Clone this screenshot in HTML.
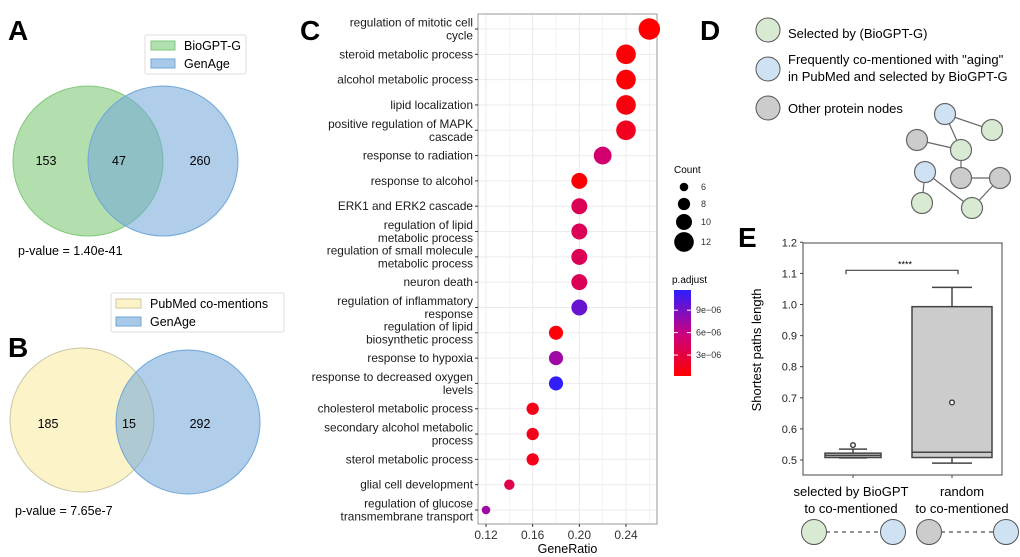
<!DOCTYPE html>
<html><head><meta charset="utf-8"><style>
body{margin:0;background:#fff}
svg{display:block;font-family:"Liberation Sans",Arial,sans-serif}
</style></head><body>
<svg id="fig" width="1020" height="557" viewBox="0 0 1020 557">
<g>
<text x="8" y="40" font-size="28" font-weight="bold">A</text>
<g>
<rect x="145" y="35" width="101" height="39" fill="#fff" stroke="#ddd" rx="2"/>
<rect x="151" y="41" width="24" height="9" fill="#b2dfb0" stroke="#7ec87a"/>
<text x="184" y="50" font-size="12.5">BioGPT-G</text>
<rect x="151" y="59" width="24" height="9" fill="#a9c9e9" stroke="#6fa6d9"/>
<text x="184" y="68" font-size="12.5">GenAge</text>
</g>
<circle cx="88" cy="161" r="75" fill="#80c97a" fill-opacity="0.6" stroke="#7ec87a"/>
<circle cx="163" cy="161" r="75" fill="#6fa6d9" fill-opacity="0.55" stroke="#6fa6d9"/>
<text x="46" y="165" font-size="12.5" text-anchor="middle">153</text>
<text x="119" y="165" font-size="12.5" text-anchor="middle">47</text>
<text x="200" y="165" font-size="12.5" text-anchor="middle">260</text>
<text x="18" y="255" font-size="12.5">p-value = 1.40e-41</text>
</g>
<g>
<text x="8" y="357" font-size="28" font-weight="bold">B</text>
<g>
<rect x="111" y="293" width="173" height="39" fill="#fff" stroke="#ddd" rx="2"/>
<rect x="116" y="299" width="25" height="9" fill="#fcf3c9" stroke="#cfc79e"/>
<text x="150" y="308" font-size="12.5">PubMed co-mentions</text>
<rect x="116" y="317" width="25" height="9" fill="#a9c9e9" stroke="#6fa6d9"/>
<text x="150" y="326" font-size="12.5">GenAge</text>
</g>
<circle cx="82" cy="420" r="72" fill="#fcf3c9" stroke="#c9c4a6"/>
<circle cx="188" cy="422" r="72" fill="#6fa6d9" fill-opacity="0.55" stroke="#6fa6d9"/>
<text x="48" y="428" font-size="12.5" text-anchor="middle">185</text>
<text x="129" y="428" font-size="12.5" text-anchor="middle">15</text>
<text x="200" y="428" font-size="12.5" text-anchor="middle">292</text>
<text x="15" y="515" font-size="12.5">p-value = 7.65e-7</text>
</g>
<g id="pc">
<text x="300" y="40" font-size="28" font-weight="bold">C</text>
</g>
<g>
<text x="700" y="40" font-size="28" font-weight="bold">D</text>
<circle cx="768" cy="30" r="12" fill="#d9ead3" stroke="#555"/>
<text x="788" y="38" font-size="13">Selected by (BioGPT-G)</text>
<circle cx="768" cy="69" r="12" fill="#cfe2f3" stroke="#555"/>
<text x="788" y="64" font-size="13">Frequently co-mentioned with "aging"</text>
<text x="788" y="81" font-size="13">in PubMed and selected by BioGPT-G</text>
<circle cx="768" cy="108" r="12" fill="#cccccc" stroke="#555"/>
<text x="788" y="113" font-size="13">Other protein nodes</text>
<g stroke="#666" stroke-width="1.2">
<line x1="945" y1="114" x2="992" y2="130"/><line x1="945" y1="114" x2="961" y2="150"/>
<line x1="917" y1="140" x2="961" y2="150"/><line x1="961" y1="150" x2="961" y2="178"/>
<line x1="961" y1="178" x2="1000" y2="178"/><line x1="925" y1="172" x2="972" y2="208"/>
<line x1="925" y1="172" x2="922" y2="203"/><line x1="1000" y1="178" x2="972" y2="208"/>
<circle cx="945" cy="114" r="10.5" fill="#cfe2f3"/><circle cx="992" cy="130" r="10.5" fill="#d9ead3"/>
<circle cx="917" cy="140" r="10.5" fill="#cccccc"/><circle cx="961" cy="150" r="10.5" fill="#d9ead3"/>
<circle cx="925" cy="172" r="10.5" fill="#cfe2f3"/><circle cx="961" cy="178" r="10.5" fill="#cccccc"/>
<circle cx="1000" cy="178" r="10.5" fill="#cccccc"/><circle cx="922" cy="203" r="10.5" fill="#d9ead3"/>
<circle cx="972" cy="208" r="10.5" fill="#d9ead3"/>
</g>
</g>
<g id="pe">
<text x="738" y="247" font-size="28" font-weight="bold">E</text>
</g>
</svg>
<script>
const terms = ["regulation of mitotic cell|cycle","steroid metabolic process","alcohol metabolic process","lipid localization","positive regulation of MAPK|cascade","response to radiation","response to alcohol","ERK1 and ERK2 cascade","regulation of lipid|metabolic process","regulation of small molecule|metabolic process","neuron death","regulation of inflammatory|response","regulation of lipid|biosynthetic process","response to hypoxia","response to decreased oxygen|levels","cholesterol metabolic process","secondary alcohol metabolic|process","sterol metabolic process","glial cell development","regulation of glucose|transmembrane transport"];
const geneRatio = [0.26,0.24,0.24,0.24,0.24,0.22,0.20,0.20,0.20,0.20,0.20,0.20,0.18,0.18,0.18,0.16,0.16,0.16,0.14,0.12];
const counts = [13,12,12,12,12,11,10,10,10,10,10,10,9,9,9,8,8,8,7,6];
const padj = [0.3e-6,0.4e-6,0.4e-6,0.8e-6,1.6e-6,5e-6,0.5e-6,4e-6,4e-6,4e-6,4e-6,9.5e-6,0.6e-6,7.5e-6,11.5e-6,1.2e-6,1.4e-6,1.4e-6,3.6e-6,7.5e-6];
const xTicks = [0.12,0.16,0.20,0.24];
const countLegend = [6,8,10,12];
const padjTicks = [3e-6,6e-6,9e-6];
const boxGroups = ["selected by BioGPT|to co-mentioned","random|to co-mentioned"];
const boxLow = [0.507,0.49];
const boxQ1 = [0.508,0.508];
const boxMed = [0.515,0.525];
const boxQ3 = [0.522,0.993];
const boxHigh = [0.535,1.055];
const boxPoint = [0.548,0.685];
const yTicksE = [0.5,0.6,0.7,0.8,0.9,1.0,1.1,1.2];

const NS="http://www.w3.org/2000/svg";
function mk(tag,attrs,parent,txt){const e=document.createElementNS(NS,tag);for(const k in attrs)e.setAttribute(k,attrs[k]);if(txt!==undefined)e.textContent=txt;parent.appendChild(e);return e;}

const pc=document.getElementById('pc');
const L=478,R=657,T=14,B=524;
const xC=v=>486+(v-0.12)*(626-486)/0.12;
const yRow=i=>29+i*(510-29)/19;
const rC=c=>4.3+(c-6)*0.92;
const P0=0.2e-6,P1=11.7e-6;
function pcol(p){let t=Math.max(0,Math.min(1,(p-P0)/(P1-P0)));const s=[[255,0,0],[200,0,130],[45,30,255]];let a,b,u;if(t<0.5){a=s[0];b=s[1];u=t/0.5}else{a=s[1];b=s[2];u=(t-0.5)/0.5}return `rgb(${a.map((v,k)=>Math.round(v+(b[k]-v)*u)).join(',')})`;}
mk('rect',{x:L,y:T,width:R-L,height:B-T,fill:'#fff'},pc);
const grid=mk('g',{stroke:'#ebebeb'},pc);


for(let v=0.12;v<=0.2601;v+=0.02){mk('line',{x1:xC(v),x2:xC(v),y1:T,y2:B,'stroke-width':Math.round(v*100)%4===0?1:0.6},grid);}
terms.forEach((t,i)=>mk('line',{x1:L,x2:R,y1:yRow(i),y2:yRow(i)},grid));
mk('rect',{x:L,y:T,width:R-L,height:B-T,fill:'none',stroke:'#999'},pc);
terms.forEach((t,i)=>{
  const y=yRow(i);const lines=t.split('|');
  mk('line',{x1:L-3,x2:L,y1:y,y2:y,stroke:'#333'},pc);
  lines.forEach((ln,j)=>{
    const tx=mk('text',{x:L-5,y:y+4+(lines.length===2?(j===0?-6.5:6.5):0),'font-size':11.8,'text-anchor':'end',fill:'#1a1a1a'},pc,ln);
    
    
  });
  const c=mk('circle',{cx:xC(geneRatio[i]),cy:y,r:rC(counts[i]),fill:pcol(padj[i])},pc);
  
  
});
xTicks.forEach(v=>{mk('line',{x1:xC(v),x2:xC(v),y1:B,y2:B+3,stroke:'#333'},pc);
  const t=mk('text',{x:xC(v),y:B+15,'font-size':12,'text-anchor':'middle',fill:'#333'},pc,v.toFixed(2));
  
  });
const xt=mk('text',{x:(L+R)/2,y:553,'font-size':12.5,'text-anchor':'middle'},pc,'GeneRatio');


mk('text',{x:674,y:173,'font-size':10},pc,'Count');
const cly=[187,204,222,242];
countLegend.forEach((c,i)=>{mk('circle',{cx:684,cy:cly[i],r:rC(c),fill:'#000'},pc);mk('text',{x:701,y:cly[i]+3,'font-size':9,fill:'#333'},pc,String(c));});
mk('text',{x:672,y:283,'font-size':10},pc,'p.adjust');
const defs=mk('defs',{},pc);const lg=mk('linearGradient',{id:'pg',x1:0,y1:1,x2:0,y2:0},defs);
for(let k=0;k<=10;k++)mk('stop',{offset:k/10,'stop-color':pcol(P0+(P1-P0)*k/10)},lg);
const cb=mk('rect',{x:674,y:290,width:17,height:86,fill:'url(#pg)'},pc);


const yCB=p=>376-(p-P0)/(P1-P0)*86;
padjTicks.forEach(p=>{mk('line',{x1:674,x2:678,y1:yCB(p),y2:yCB(p),stroke:'#fff'},pc);mk('line',{x1:687,x2:691,y1:yCB(p),y2:yCB(p),stroke:'#fff'},pc);
  mk('text',{x:696,y:yCB(p)+3,'font-size':9,fill:'#333'},pc,(p*1e6).toFixed(0)+'e\u221206');});

const pe=document.getElementById('pe');
const EL=803,ER=1002,ET=243,EB=475;
const yE=v=>460-(v-0.5)*311;
const xE=[853,952],hw=[28,40];
mk('rect',{x:EL,y:ET,width:ER-EL,height:EB-ET,fill:'#fff',stroke:'#444'},pe);
yTicksE.forEach(v=>{mk('line',{x1:EL-3,x2:EL,y1:yE(v),y2:yE(v),stroke:'#444'},pe);
  const t=mk('text',{x:EL-6,y:yE(v)+4,'font-size':11,'text-anchor':'end',fill:'#222'},pe,v.toFixed(1));
  
  });
const yt=mk('text',{x:0,y:0,'font-size':13,'text-anchor':'middle',transform:'translate(761,350) rotate(-90)'},pe,'Shortest paths length');


boxGroups.forEach((g,i)=>{
  const x=xE[i],w=hw[i];
  const gg=mk('g',{stroke:'#444','stroke-width':1.5},pe);
  
  
  mk('line',{x1:x,x2:x,y1:yE(boxHigh[i]),y2:yE(boxQ3[i])},gg);
  mk('line',{x1:x,x2:x,y1:yE(boxQ1[i]),y2:yE(boxLow[i])},gg);
  mk('line',{x1:x-w/2,x2:x+w/2,y1:yE(boxHigh[i]),y2:yE(boxHigh[i])},gg);
  mk('line',{x1:x-w/2,x2:x+w/2,y1:yE(boxLow[i]),y2:yE(boxLow[i])},gg);
  mk('rect',{x:x-w,y:yE(boxQ3[i]),width:2*w,height:Math.max(1,yE(boxQ1[i])-yE(boxQ3[i])),fill:i===0?'#c9d6c6':'#cccccc'},gg);
  mk('line',{x1:x-w,x2:x+w,y1:yE(boxMed[i]),y2:yE(boxMed[i])},gg);
  mk('circle',{cx:x,cy:yE(boxPoint[i]),r:2.3,fill:'#fff'},gg);
  mk('line',{x1:x,x2:x,y1:EB,y2:EB+3,stroke:'#444'},pe);
  g.split('|').forEach((ln,j)=>{const t=mk('text',{x:x+(i===1?10:-2),y:496+j*17,'font-size':13,'text-anchor':'middle'},pe,ln);
    
    });
});
const br=mk('path',{d:`M846 ${yE(1.11)+4} V${yE(1.11)} H958 V${yE(1.11)+4}`,fill:'none',stroke:'#444','stroke-width':1.2},pe);


mk('text',{x:905,y:yE(1.11)-3,'font-size':9,'text-anchor':'middle'},pe,'****');
[[814,'#d9ead3',893,'#cfe2f3'],[929,'#cccccc',1006,'#cfe2f3']].forEach((p,i)=>{
  const g=mk('g',{},pe);
  
  
  mk('line',{x1:p[0]+12,x2:p[2]-12,y1:532,y2:532,stroke:'#222','stroke-dasharray':'4 4'},g);
  mk('circle',{cx:p[0],cy:532,r:12.5,fill:p[1],stroke:'#555'},g);
  mk('circle',{cx:p[2],cy:532,r:12.5,fill:p[3],stroke:'#555'},g);
});
</script>
</body></html>
